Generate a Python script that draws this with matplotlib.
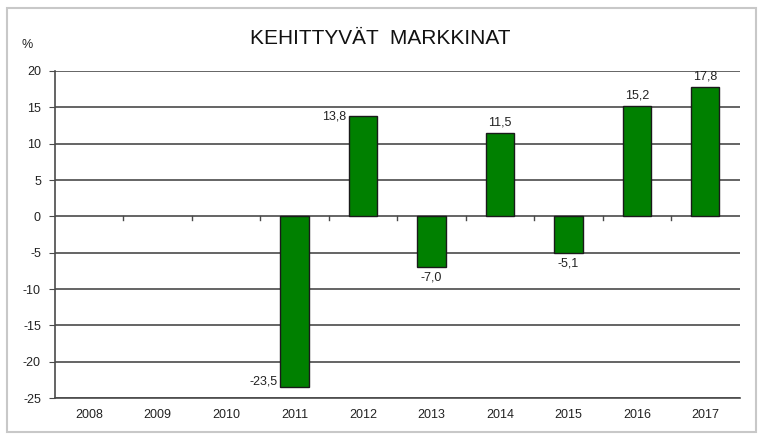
import numpy as np
import matplotlib.pyplot as plt
from matplotlib.patches import Rectangle

years = ['2008', '2009', '2010', '2011', '2012', '2013', '2014', '2015', '2016', '2017']
values = [np.nan, np.nan, np.nan, -23.5, 13.8, -7.0, 11.5, -5.1, 15.2, 17.8]
labels = ['', '', '', '-23,5', '13,8', '-7,0', '11,5', '-5,1', '15,2', '17,8']
yticks = [20, 15, 10, 5, 0, -5, -10, -15, -20, -25]

plt.rcParams['font.family'] = ['Liberation Sans', 'DejaVu Sans']

fig = plt.figure(figsize=(7.61, 4.38), dpi=100)
ax = fig.add_axes([0.072, 0.091, 0.9, 0.747])

# outer frame like the Excel chart area
fig.patches.append(Rectangle((0.009, 0.014), 0.985, 0.968, transform=fig.transFigure,
                             fill=False, edgecolor='#c8c8c8', linewidth=1.5))

x = np.arange(len(years))
for t in yticks:
    ax.axhline(t, color='#4a4a4a', linewidth=1.2, zorder=1)

ax.bar(x, values, width=0.41, color='#008000', edgecolor='#1a1a1a', linewidth=1, zorder=3)

# small ticks between categories on the zero line
for xm in x[:-1] + 0.5:
    ax.plot([xm, xm], [0, -0.5], color='#4a4a4a', linewidth=1, zorder=2)

fs = 9
for i, (v, lab) in enumerate(zip(values, labels)):
    if not lab:
        continue
    if i in (3, 4):
        # label placed left of bar end
        ax.text(i - 0.25, v, lab, ha='right', va='center' if i == 4 else 'bottom',
                fontsize=fs, color='#222222')
    elif v > 0:
        ax.text(i, v + 0.6, lab, ha='center', va='bottom', fontsize=fs, color='#222222')
    else:
        ax.text(i, v - 0.6, lab, ha='center', va='top', fontsize=fs, color='#222222')

ax.set_xlim(-0.5, len(years) - 0.5)
ax.set_ylim(-25, 20)
ax.set_yticks(yticks)
ax.set_yticklabels([str(t) for t in yticks], fontsize=fs, color='#222222')
ax.set_xticks(x)
ax.set_xticklabels(years, fontsize=fs, color='#222222')
ax.tick_params(axis='x', length=0, pad=8)
ax.tick_params(axis='y', length=4, color='#4a4a4a', pad=6)

for s in ['top', 'right']:
    ax.spines[s].set_visible(False)
ax.spines['left'].set_color('#4a4a4a')
ax.spines['bottom'].set_color('#4a4a4a')
ax.spines['left'].set_linewidth(1.2)
ax.spines['bottom'].set_linewidth(1.2)

fig.text(0.5, 0.913, 'KEHITTYVÄT  MARKKINAT', ha='center', va='center', fontsize=15, color='#111111')
fig.text(0.035, 0.897, '%', ha='center', va='center', fontsize=fs, color='#222222')

fig.savefig('out.png', dpi=100)
